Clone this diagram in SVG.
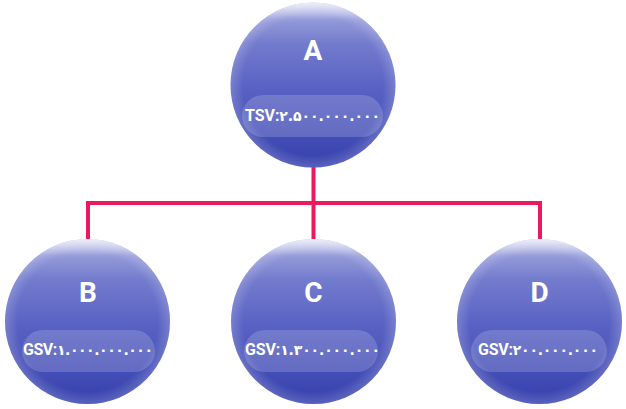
<svg xmlns="http://www.w3.org/2000/svg" width="626" height="409" viewBox="0 0 626 409">
<defs>
<linearGradient id="g" x1="0" y1="0" x2="0" y2="1">
<stop offset="0" stop-color="#a9aee3"/>
<stop offset="0.12" stop-color="#7f87d2"/>
<stop offset="0.5" stop-color="#5b64c4"/>
<stop offset="1" stop-color="#3540ad"/>
</linearGradient>
<linearGradient id="hl" x1="0" y1="0" x2="0" y2="1">
<stop offset="0" stop-color="#ffffff" stop-opacity="0.75"/>
<stop offset="0.1" stop-color="#ffffff" stop-opacity="0.15"/>
<stop offset="0.25" stop-color="#ffffff" stop-opacity="0"/>
</linearGradient>
<radialGradient id="rim" cx="0.5" cy="0.5" r="0.5">
<stop offset="0.85" stop-color="#ffffff" stop-opacity="0"/>
<stop offset="1" stop-color="#ffffff" stop-opacity="0.18"/>
</radialGradient>
</defs>
<style>
.c{fill:url(#g)}
.h{fill:url(#hl)}
.r{fill:url(#rim)}
.p{fill:#ffffff;fill-opacity:0.17}
.t{font-family:Roboto,"DejaVu Sans",sans-serif;font-weight:bold;fill:#ffffff}
.big{font-size:28px;text-anchor:middle}
.sm{font-size:16px}
.d{font-family:"DejaVu Sans",sans-serif;font-size:14px}
.e{fill:none;stroke:#e91a5f;stroke-width:4}
</style>
<g id="connectors">
<path class="e" d="M313.5 160 V203 M88 242 V203 H540 V242 M313.5 203 V242"/>
</g>
<g id="A">
<circle class="c" cx="313" cy="85" r="82.5"/>
<circle class="h" cx="313" cy="85" r="82.5"/>
<circle class="r" cx="313" cy="85" r="82.5"/>
<rect class="p" x="242" y="95" width="141" height="42" rx="21"/>
<text class="t big" x="313" y="60">A</text>
<text class="t sm" x="245" y="121" textLength="135" lengthAdjust="spacing">TSV:<tspan class="d">۲.۵۰۰.۰۰۰.۰۰۰</tspan></text>
</g>
<g id="B">
<circle class="c" cx="87.5" cy="321.5" r="82.5"/>
<circle class="h" cx="87.5" cy="321.5" r="82.5"/>
<circle class="r" cx="87.5" cy="321.5" r="82.5"/>
<rect class="p" x="22" y="330" width="133" height="42" rx="21"/>
<text class="t big" x="88" y="302">B</text>
<text class="t sm" x="23" y="355" textLength="130" lengthAdjust="spacing">GSV:<tspan class="d">۱.۰۰۰.۰۰۰.۰۰۰</tspan></text>
</g>
<g id="C">
<circle class="c" cx="313.5" cy="321.5" r="82.5"/>
<circle class="h" cx="313.5" cy="321.5" r="82.5"/>
<circle class="r" cx="313.5" cy="321.5" r="82.5"/>
<rect class="p" x="244" y="330" width="134" height="42" rx="21"/>
<text class="t big" x="313.5" y="302">C</text>
<text class="t sm" x="245" y="355" textLength="135" lengthAdjust="spacing">GSV:<tspan class="d">۱.۳۰۰.۰۰۰.۰۰۰</tspan></text>
</g>
<g id="D">
<circle class="c" cx="539.5" cy="321.5" r="82.5"/>
<circle class="h" cx="539.5" cy="321.5" r="82.5"/>
<circle class="r" cx="539.5" cy="321.5" r="82.5"/>
<rect class="p" x="471" y="330" width="136" height="42" rx="21"/>
<text class="t big" x="539.5" y="302">D</text>
<text class="t sm" x="478" y="355" textLength="120" lengthAdjust="spacing">GSV:<tspan class="d">۲۰۰.۰۰۰.۰۰۰</tspan></text>
</g>
</svg>
